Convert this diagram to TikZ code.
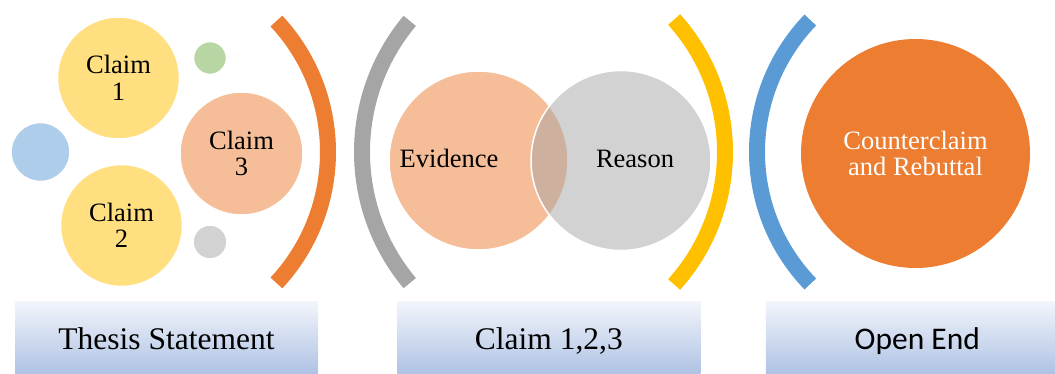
\documentclass[tikz,border=0pt]{standalone}
\usepackage{fontspec}
\setmainfont{Liberation Serif}
\newfontfamily\calibrifont{Carlito}
\usepackage{xcolor}
\usepackage{tikz}
\usetikzlibrary{positioning}
\definecolor{orangeA}{HTML}{ED7D31}
\definecolor{grayA}{HTML}{A5A5A5}
\definecolor{goldA}{HTML}{FFC000}
\definecolor{blueA}{HTML}{5B9BD5}
\definecolor{greenA}{HTML}{70AD47}
\definecolor{bandTop}{HTML}{F3F5FB}
\definecolor{bandBot}{HTML}{ABC0E3}
\tikzset{bubble/.style={circle,draw=white,line width=1.5pt,fill opacity=.5,text opacity=1,inner sep=0pt,align=center,font=\fontsize{26.5}{26.5}\selectfont},
  paren/.style={line width=16pt},
  band/.style={rectangle,top color=bandTop,bottom color=bandBot,minimum width=303pt,minimum height=76pt,text depth=0pt,font=\fontsize{31.5}{31.5}\selectfont},}

\begin{document}
\begin{tikzpicture}[x=1pt,y=-1pt]
    \useasboundingbox (0,0) rectangle (1055,374);

    % thesis part
    \node[bubble,fill=goldA,minimum size=122pt] (c1) at (118.5,78) {Claim\\1};
    \node[bubble,fill=goldA,minimum size=122pt] (c2) at (121.5,225.5) {Claim\\2};
    \node[bubble,fill=orangeA,minimum size=123pt] (c3) at (241.5,153.5) {Claim\\3};
    \node[bubble,fill=blueA,minimum size=59pt] (dot1) at (40.5,152) {};
    \node[bubble,fill=greenA,minimum size=33pt] (dot2) at (210,58) {};
    \node[bubble,fill=grayA,minimum size=34pt] (dot3) at (210,242) {};
    \draw[paren,orangeA] (136,152) ++(-43:192) arc[start angle=-43,end angle=43,radius=192];

    % claim part
    \draw[paren,grayA] (566,152) ++(140:204) arc[start angle=140,end angle=220,radius=204];
    \node[bubble,fill=orangeA,minimum size=179pt] (ev) at (478.5,160.5) {};
    \node[bubble,fill=grayA,minimum size=180pt] (re) at (621,160.5) {};
    \node[anchor=base,font=\fontsize{26.5}{26.5}\selectfont] (evt) at (449,168) {Evidence};
    \node[anchor=base,font=\fontsize{26.5}{26.5}\selectfont] (ret) at (635,168) {Reason};
    \draw[paren,goldA] (527,152) ++(-42:198) arc[start angle=-42,end angle=42,radius=198];

    % open end part
    \draw[paren,blueA] (947,152) ++(136:190) arc[start angle=136,end angle=224,radius=190];
    \node[circle,fill=orangeA,minimum size=229pt,inner sep=0pt,text=white,align=center,font=\fontsize{26.5}{26.5}\selectfont] (cc) at (915.5,153.5) {Counterclaim\\and Rebuttal};

    % labels
    \node[band] (t1) at (166.5,339) {Thesis Statement};
    \node[band] (t2) [right = 79pt of t1] {Claim 1,2,3};
    \node[band,font=\calibrifont\fontsize{31.5}{31.5}\selectfont] (t3) [right = 65pt of t2] {Open End};

\end{tikzpicture}
\end{document}
